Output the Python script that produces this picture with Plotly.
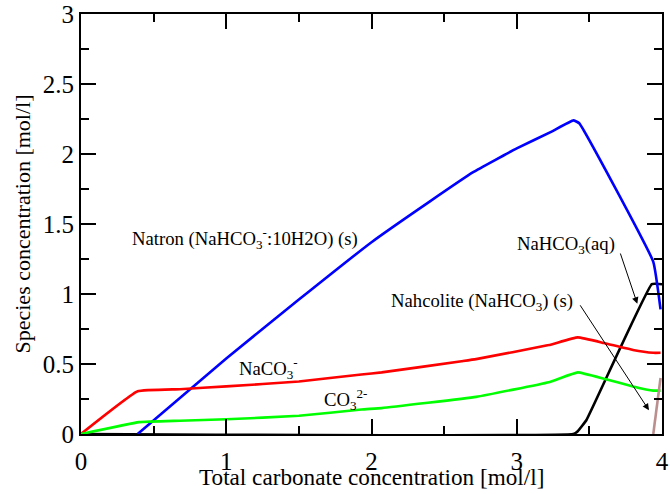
import plotly.graph_objects as go

# Natron (s)
natron_x = [0.39, 1.0, 1.5, 2.0, 2.4, 2.7, 3.0, 3.24, 3.39, 3.43, 3.94, 3.99]
natron_y = [0.0, 0.54, 0.96, 1.37, 1.66, 1.87, 2.04, 2.16, 2.24, 2.22, 1.23, 0.89]

# NaCO3-
naco3_x = [0, 0.39, 0.68, 1.0, 1.5, 1.93, 2.07, 2.62, 2.72, 3.22, 3.42, 3.6, 3.8, 3.94, 3.99]
naco3_y = [0, 0.305, 0.32, 0.34, 0.375, 0.425, 0.44, 0.52, 0.535, 0.635, 0.69, 0.65, 0.60, 0.58, 0.58]

# CO3 2-
co3_x = [0, 0.40, 0.68, 1.0, 1.5, 1.93, 2.07, 2.72, 3.22, 3.42, 3.6, 3.8, 3.94, 3.99]
co3_y = [0, 0.085, 0.095, 0.105, 0.13, 0.175, 0.185, 0.265, 0.37, 0.44, 0.395, 0.34, 0.31, 0.31]

# NaHCO3(aq)
nahco3aq_x = [0, 3.39, 3.42, 3.48, 3.93, 4.0]
nahco3aq_y = [0, 0, 0.02, 0.10, 1.07, 1.07]

# Nahcolite (s)
nahcolite_x = [3.94, 3.99]
nahcolite_y = [0.0, 0.40]

x_title = "Total carbonate concentration [mol/l]"
y_title = "Species concentration [mol/l]"

FONT = "Liberation Serif"

fig = go.Figure()
for xs, ys, col in [
    (nahco3aq_x, nahco3aq_y, "#000000"),
    (natron_x, natron_y, "#0000ff"),
    (naco3_x, naco3_y, "#ff0000"),
    (co3_x, co3_y, "#00ff00"),
    (nahcolite_x, nahcolite_y, "#bc8f8f"),
]:
    fig.add_trace(go.Scatter(x=xs, y=ys, mode="lines",
                             line=dict(color=col, width=2.6, shape="spline", smoothing=0.3),
                             showlegend=False, cliponaxis=False, hoverinfo="skip"))

ann_font = dict(family=FONT, size=18.7, color="black")
fig.add_annotation(x=1.13, y=1.40, text="Natron (NaHCO<sub>3</sub><sup>-</sup>:10H2O) (s)",
                   showarrow=False, font=ann_font)
fig.add_annotation(x=1.29, y=0.47, text="NaCO<sub>3</sub><sup>-</sup>",
                   showarrow=False, font=ann_font)
fig.add_annotation(x=1.82, y=0.245, text="CO<sub>3</sub><sup>2-</sup>",
                   showarrow=False, font=ann_font)
fig.add_annotation(x=3.34, y=1.35, text="NaHCO<sub>3</sub>(aq)",
                   showarrow=False, font=ann_font)
fig.add_annotation(x=2.76, y=0.94, text="Nahcolite (NaHCO<sub>3</sub>) (s)",
                   showarrow=False, font=ann_font)
# arrows
fig.add_annotation(x=3.83, y=0.93, ax=3.71, ay=1.30, axref="x", ayref="y",
                   text="", showarrow=True, arrowhead=2, arrowsize=1.3,
                   arrowwidth=1, arrowcolor="black")
fig.add_annotation(x=3.91, y=0.17, ax=3.43, ay=0.93, axref="x", ayref="y",
                   text="", showarrow=True, arrowhead=2, arrowsize=1.3,
                   arrowwidth=1, arrowcolor="black")

# x-axis title (placed close under the tick labels as in the reference)
fig.add_annotation(x=0.5, y=-0.1024, xref="paper", yref="paper", yanchor="middle",
                   text=x_title, showarrow=False,
                   font=dict(family=FONT, size=23.2, color="black"))

axis_common = dict(showgrid=False, zeroline=False, showline=True, linecolor="black",
                   linewidth=2, mirror="ticks", ticks="inside", ticklen=15,
                   tickwidth=1.5, tickcolor="black",
                   tickfont=dict(family=FONT, size=25, color="black"))

fig.update_xaxes(range=[0, 4], dtick=1, tick0=0, ticklabelstandoff=4,
                 minor=dict(dtick=0.5, ticklen=8, ticks="inside", tickcolor="black", tickwidth=1.5),
                 **axis_common)
fig.update_yaxes(range=[0, 3], dtick=0.5, tick0=0,
                 minor=dict(dtick=0.25, ticklen=8, ticks="inside", tickcolor="black", tickwidth=1.5),
                 title=dict(text=y_title,
                            font=dict(family=FONT, size=22, color="black"), standoff=6),
                 **axis_common)

fig.update_layout(width=670, height=494, plot_bgcolor="white", paper_bgcolor="white",
                  margin=dict(l=81, r=8, t=14, b=60, autoexpand=False))

fig.write_html("out.html", config={"displayModeBar": False},
               post_script="document.body.style.margin='0';document.body.style.padding='0';")
